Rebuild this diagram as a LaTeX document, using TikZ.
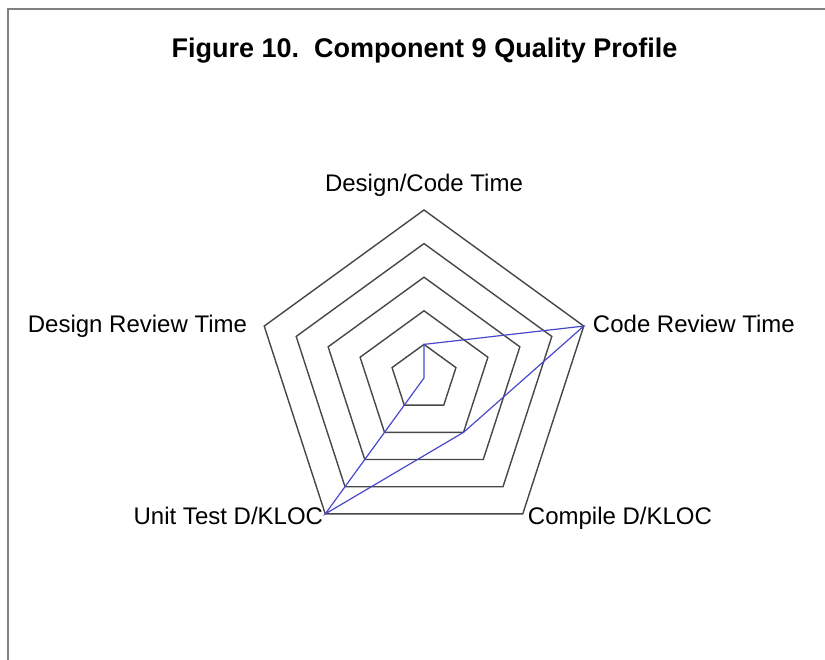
\documentclass[tikz,border=0pt]{standalone}
\usepackage{fontspec}
\setmainfont{Liberation Sans}
\usetikzlibrary{calc, positioning}

\definecolor{seriesblue}{RGB}{72,72,204}

\begin{document}
\begin{tikzpicture}[
    x=1pt, y=1pt,
    every node/.style={
      inner sep=0pt,
      font=\fontsize{24}{28}\selectfont,
      text height=17pt,
      text depth=5pt
    },
    ring/.style={draw=black!72, line width=1.4pt, line join=miter},
    series/.style={draw=seriesblue, line width=1.2pt, line join=miter},
    frame/.style={draw=black!50, line width=2.5pt}
  ]
    \useasboundingbox (0,0) rectangle (825,660);
    \draw[frame] (8,-10) -- (8,651) -- (835,651);

    \node[anchor=base, font=\bfseries\fontsize{27}{32}\selectfont] (title) at (424.5,602)
      {Figure 10.~~Component 9 Quality Profile};

    % axes: centre and outer corners
    \coordinate (c) at (424,282);
    \foreach \a [count=\i] in {90,18,-54,-126,162}
      \coordinate (v\i) at ([shift={(\a:168)}]c);

    % grid rings
    \foreach \k in {1,...,5}
      \draw[ring] ($(c)!{\k/5}!(v1)$) -- ($(c)!{\k/5}!(v2)$) -- ($(c)!{\k/5}!(v3)$)
        -- ($(c)!{\k/5}!(v4)$) -- ($(c)!{\k/5}!(v5)$) -- cycle;

    % component 9 values
    \draw[series] ($(c)!0.2!(v1)$) -- (v2) -- ($(c)!0.4!(v3)$) -- (v4) -- (c) -- cycle;

    \node (dctime) [above=13pt of v1] {Design/Code Time};
    \node (crtime) [right=9pt of v2] {Code Review Time};
    \node (compile) [right=5pt of v3, yshift=-5pt] {Compile D/KLOC};
    \node (unittest) [left=2pt of v4, yshift=-5pt] {Unit Test D/KLOC};
    \node (drtime) [left=17pt of v5] {Design Review Time};
  \end{tikzpicture}
\end{document}
